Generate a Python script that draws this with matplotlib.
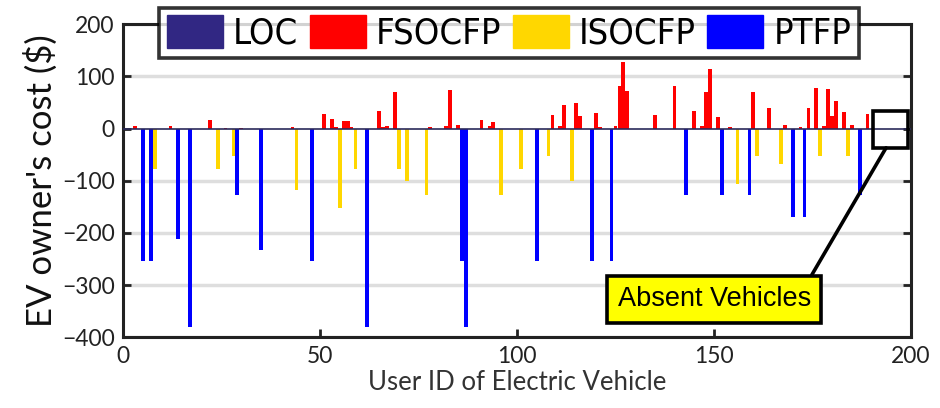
import matplotlib
matplotlib.use("Agg")
import matplotlib.pyplot as plt
from matplotlib import font_manager
from matplotlib.patches import Patch, Rectangle

# cost components per EV user (only non-zero entries listed)
fsocfp_users = [3, 12, 22, 26, 30, 43, 51, 53, 54, 56, 57, 58, 65, 66, 67, 69, 78, 82, 83, 85,
                91, 93, 94, 109, 111, 112, 115, 116, 120, 121, 125, 126, 127, 128, 135, 140,
                145, 147, 148, 149, 151, 154, 160, 164, 168, 172, 174, 176, 178, 179, 180,
                181, 183, 185, 189]
fsocfp_vals = [5, 5, 16, 1, 1, 3, 28, 18, 2, 15, 15, 2, 33, 3, 5, 70, 2, 4, 73, 7,
               17, 5, 12, 25, 5, 45, 49, 24, 30, 2, 4, 82, 127, 72, 26, 81,
               33, 4, 70, 114, 22, 2, 70, 39, 7, 2, 39, 77, 5, 76, 24,
               52, 31, 6, 27]

isocfp_users = [8, 24, 28, 44, 55, 59, 70, 72, 77, 96, 101, 108, 114, 156, 161, 167, 177, 184]
isocfp_vals = [-77, -77, -52, -117, -152, -77, -77, -101, -127, -127, -77, -52, -101,
               -106, -52, -68, -52, -52]

ptfp_users = [5, 7, 14, 17, 29, 35, 48, 62, 86, 87, 105, 119, 124, 143, 152, 159, 170, 173, 187]
ptfp_vals = [-254, -254, -212, -380, -127, -232, -254, -380, -254, -380, -254, -254, -254,
             -127, -127, -127, -170, -170, -127]

labels = ["LOC", "FSOCFP", "ISOCFP", "PTFP"]
colors = ["#312783", "#FF0000", "#FFD700", "#0000FF"]

plt.rcParams['font.family'] = ['Lato', 'DejaVu Sans']

# pick a narrow face for the legend if one is installed
fonts = font_manager.fontManager.ttflist
if any(f.name == "Liberation Sans Narrow" for f in fonts):
    leg_prop = font_manager.FontProperties(family="Liberation Sans Narrow", size=28)
elif any(f.name == "DejaVu Sans" and f.stretch == "condensed" for f in fonts):
    leg_prop = font_manager.FontProperties(family="DejaVu Sans", stretch="condensed", size=26)
else:
    leg_prop = font_manager.FontProperties(family="Liberation Sans", size=23)

fig = plt.figure(figsize=(9.4, 4.08), dpi=100)
ax = fig.add_axes([0.131, 0.173, 0.838, 0.768])

for y in [-400, -300, -200, -100, 100, 200]:
    ax.axhline(y, color="#DEDEDE", lw=2.5, zorder=0)

w = 0.95
ax.bar(fsocfp_users, fsocfp_vals, width=w, color=colors[1], zorder=2)
ax.bar(isocfp_users, isocfp_vals, width=w, color=colors[2], zorder=2)
ax.bar(ptfp_users, ptfp_vals, width=w, color=colors[3], zorder=2)
ax.axhline(0, color="#2b2a5a", lw=1.2, zorder=3)

ax.set_xlim(0, 200)
ax.set_ylim(-400, 200)
ax.set_xticks([0, 50, 100, 150, 200])
ax.set_yticks([-400, -300, -200, -100, 0, 100, 200])
ax.tick_params(direction="in", length=6, width=2, labelsize=16.5, colors="#222222",
               top=True, right=True, pad=6)
for s in ax.spines.values():
    s.set_linewidth(2.2)
    s.set_color("#222222")

ax.set_xlabel("User ID of Electric Vehicle", fontsize=18.5, color="#333333", labelpad=2)
ax.set_ylabel("EV owner's cost ($)", fontsize=25, color="#111111", labelpad=3)

# region with no vehicles
ax.add_patch(Rectangle((190.3, -37), 8.9, 71, fill=False, lw=2.6, ec="black", zorder=5))
ax.annotate("Absent Vehicles", xy=(193.7, -37), xytext=(150.1, -327),
            fontsize=19.5, family=['Liberation Sans', 'DejaVu Sans'],
            ha="center", va="center", zorder=6,
            bbox=dict(boxstyle="square,pad=0.38", fc="#FFFF00", ec="black", lw=2.6),
            arrowprops=dict(arrowstyle="-", lw=2.6, color="black",
                            shrinkA=0, shrinkB=0, relpos=(0.97, 1.0)))

handles = [Patch(facecolor=c, edgecolor=c) for c in colors]
leg = fig.legend(handles, labels, ncol=4, loc="center", bbox_to_anchor=(0.5415, 0.919),
                 frameon=True, fancybox=False, handlelength=1.55,
                 handleheight=1.0, handletextpad=0.28, columnspacing=0.32,
                 borderpad=0.2, borderaxespad=0, prop=leg_prop)
leg.get_frame().set_edgecolor("black")
leg.get_frame().set_linewidth(2.6)
leg.set_zorder(10)

plt.savefig("out.png", dpi=100)
